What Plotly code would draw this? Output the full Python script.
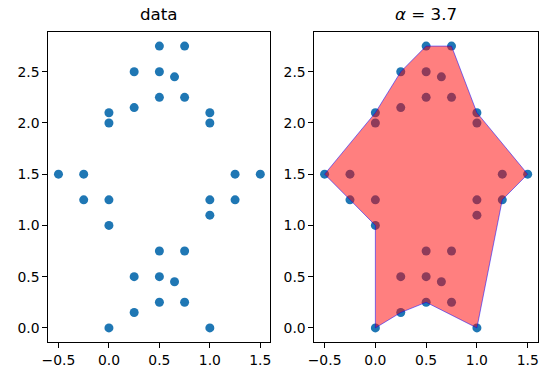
import plotly.graph_objects as go

# data points
px = [0, 0.25, 0.5, 0.75, 1, 0.25, 0.5, 0.65, 0.5, 0.75,
      0, 0, -0.25, -0.25, -0.5, 1, 1, 1.25, 1.25, 1.5,
      0, 0, 0.25, 0.25, 0.5, 0.5, 0.65, 0.75, 0.5, 0.75, 1, 1]
py = [0, 0.15, 0.25, 0.25, 0, 0.5, 0.5, 0.45, 0.75, 0.75,
      1, 1.25, 1.25, 1.5, 1.5, 1.1, 1.25, 1.25, 1.5, 1.5,
      2, 2.1, 2.15, 2.5, 2.25, 2.5, 2.45, 2.25, 2.75, 2.75, 2, 2.1]

# alpha shape hull vertices
hx = [0, 0.25, 0.5, 1, 1.25, 1.5, 1, 0.75, 0.5, 0.25, 0, -0.5, -0.25, 0, 0]
hy = [0, 0.15, 0.25, 0, 1.25, 1.5, 2.1, 2.75, 2.75, 2.5, 2.1, 1.5, 1.25, 1, 0]

xticks = [-0.5, 0, 0.5, 1, 1.5]
xticklabels = ["\u22120.5", "0.0", "0.5", "1.0", "1.5"]
yticks = [0, 0.5, 1, 1.5, 2, 2.5]
yticklabels = ["0.0", "0.5", "1.0", "1.5", "2.0", "2.5"]

W, H = 548, 376
blue = "#1f77b4"

fig = go.Figure()
fig.add_trace(go.Scatter(x=px, y=py, mode="markers", xaxis="x", yaxis="y",
                         marker=dict(color=blue, size=9, line=dict(width=0)),
                         showlegend=False, hoverinfo="skip"))
fig.add_trace(go.Scatter(x=px, y=py, mode="markers", xaxis="x2", yaxis="y2",
                         marker=dict(color=blue, size=9, line=dict(width=0)),
                         showlegend=False, hoverinfo="skip"))
fig.add_trace(go.Scatter(x=hx, y=hy, mode="lines", xaxis="x2", yaxis="y2",
                         fill="toself", fillcolor="rgba(255,0,0,0.5)",
                         line=dict(color="rgba(0,0,255,0.5)", width=1),
                         showlegend=False, hoverinfo="skip"))

ax_common = dict(showgrid=False, zeroline=False, showline=True, linecolor="black",
                 linewidth=1, mirror=True, ticks="outside", ticklen=5, tickwidth=1,
                 tickcolor="black", tickfont=dict(family="DejaVu Sans", size=13.9, color="black"))

ydom = [(376 - 342) / H, (376 - 32) / H]
fig.update_layout(
    width=W, height=H, margin=dict(l=0, r=0, t=0, b=0),
    paper_bgcolor="white", plot_bgcolor="white",
    xaxis=dict(domain=[42 / W, 267.3 / W], range=[-0.6, 1.6], anchor="y",
               tickvals=xticks, ticktext=xticklabels, **ax_common),
    yaxis=dict(domain=ydom, range=[-0.1375, 2.8875], anchor="x",
               tickvals=yticks, ticktext=yticklabels, **ax_common),
    xaxis2=dict(domain=[312 / W, 538.7 / W], range=[-0.6, 1.6], anchor="y2",
                tickvals=xticks, ticktext=xticklabels, **ax_common),
    yaxis2=dict(domain=ydom, range=[-0.1375, 2.8875], anchor="x2",
                tickvals=yticks, ticktext=yticklabels, **ax_common),
    annotations=[
        dict(text="data", x=(42 + 267.3) / 2 / W, y=(376 - 32 + 6) / H,
             xref="paper", yref="paper", xanchor="center", yanchor="bottom",
             showarrow=False, font=dict(family="DejaVu Sans", size=16.7, color="black")),
        dict(text="<i>\u03b1</i> = 3.7", x=(312 + 538.7) / 2 / W, y=(376 - 32 + 6) / H,
             xref="paper", yref="paper", xanchor="center", yanchor="bottom",
             showarrow=False, font=dict(family="DejaVu Sans", size=16.7, color="black")),
    ],
)

fig.write_html("out.html", config={"displayModeBar": False},
               post_script="document.body.style.margin='0';document.body.style.overflow='hidden';")
